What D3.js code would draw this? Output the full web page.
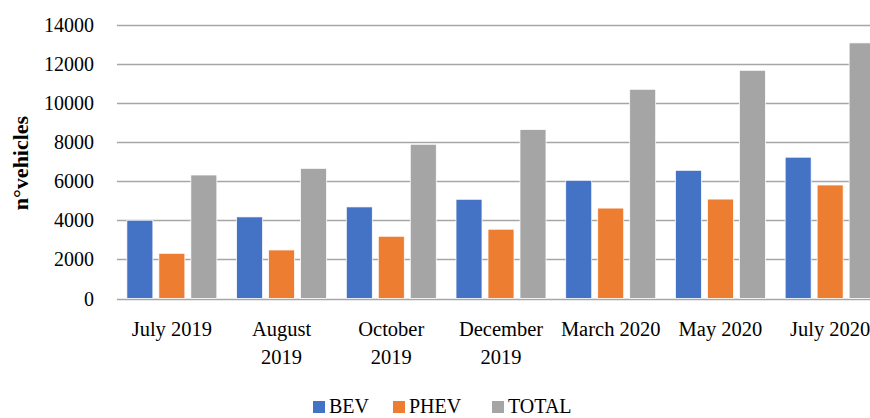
<!DOCTYPE html>
<html lang="en">
<head>
  <meta charset="UTF-8">
  <title>Vehicles</title>
  <script src="https://d3js.org/d3.v7.min.js"></script>
  <style>
    body { margin: 0; background: #fff; overflow: hidden; }
    text { font-family: "Liberation Serif", serif; fill: #000; }
  </style>
</head>
<body>
<div class="canvas"></div>
<script>
  // data
  const categories = [['July 2019'], ['August', '2019'], ['October', '2019'], ['December', '2019'], ['March 2020'], ['May 2020'], ['July 2020']]
  const series = ['BEV', 'PHEV', 'TOTAL']
  const bev = [4000, 4170, 4680, 5070, 6040, 6550, 7220]
  const phev = [2310, 2480, 3180, 3540, 4620, 5080, 5800]
  const total = [6310, 6650, 7880, 8630, 10690, 11660, 13060]
  const yTicks = [0, 2000, 4000, 6000, 8000, 10000, 12000, 14000]
  const colors = ['#4472C4', '#ED7D31', '#A5A5A5']

  const values = [bev, phev, total]
  const W = 870, H = 418
  const svg = d3.select('.canvas')
    .append('svg')
    .attr('width', W)
    .attr('height', H)

  const keys = categories.map(c => c.join(' '))
  const x = d3.scaleBand()
    .domain(keys)
    .range([117, 885])
    .paddingInner(0.18)
    .paddingOuter(0.09)
  const xs = d3.scaleBand()
    .domain(series)
    .range([0, x.bandwidth()])
    .paddingInner(0.1875)
  const y = d3.scaleLinear()
    .domain([0, 14000])
    .range([298.5, 24.5])

  // gridlines
  svg.append('g')
    .selectAll('line')
    .data(yTicks)
    .enter()
    .append('line')
    .attr('x1', 117)
    .attr('x2', W)
    .attr('y1', d => Math.round(y(d)) + 0.5)
    .attr('y2', d => Math.round(y(d)) + 0.5)
    .attr('stroke', '#a6a6a6')
    .attr('stroke-width', 1.5)

  // y tick labels
  svg.append('g')
    .selectAll('text')
    .data(yTicks)
    .enter()
    .append('text')
    .attr('x', 94)
    .attr('y', d => y(d))
    .attr('dy', '0.35em')
    .attr('text-anchor', 'end')
    .style('font-size', '20px')
    .text(d => d)

  // bars
  const groups = svg.append('g')
    .selectAll('g')
    .data(keys)
    .enter()
    .append('g')
    .attr('transform', d => `translate(${x(d)},0)`)
  groups.selectAll('rect')
    .data((d, i) => series.map((s, j) => ({ s: s, v: values[j][i], c: colors[j] })))
    .enter()
    .append('rect')
    .attr('x', d => xs(d.s))
    .attr('width', xs.bandwidth())
    .attr('y', d => y(d.v))
    .attr('height', d => y(0) - y(d.v))
    .attr('fill', d => d.c)
    .attr('stroke', '#fff')
    .attr('stroke-width', 0.75)

  // category labels
  const labels = svg.append('g')
    .selectAll('text')
    .data(categories)
    .enter()
    .append('text')
    .attr('x', (d, i) => x(keys[i]) + x.bandwidth() / 2)
    .attr('y', 336)
    .attr('text-anchor', 'middle')
    .style('font-size', '20.5px')
  labels.selectAll('tspan')
    .data(d => d)
    .enter()
    .append('tspan')
    .attr('x', function () { return d3.select(this.parentNode).attr('x') })
    .attr('dy', (d, i) => i === 0 ? 0 : 28)
    .text(d => d)

  // y axis title
  svg.append('text')
    .attr('transform', 'translate(28,163) rotate(-90)')
    .attr('text-anchor', 'middle')
    .style('font-size', '22px')
    .style('font-weight', 'bold')
    .text('n°vehicles')

  // legend
  const legX = [313, 393, 492]
  const leg = svg.append('g')
    .selectAll('g')
    .data(series)
    .enter()
    .append('g')
    .attr('transform', (d, i) => `translate(${legX[i]},401)`)
  leg.append('rect')
    .attr('width', 12)
    .attr('height', 12)
    .attr('fill', (d, i) => colors[i])
  leg.append('text')
    .attr('x', 16)
    .attr('y', 12)
    .style('font-size', '20px')
    .text(d => d)
</script>
</body>
</html>
